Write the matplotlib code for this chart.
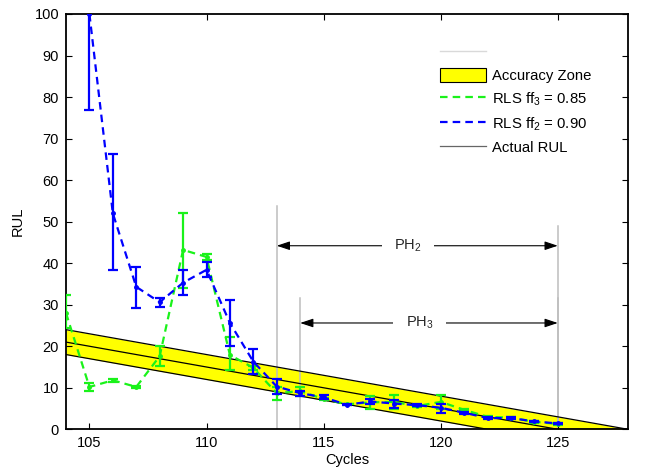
import matplotlib
matplotlib.use("Agg")
import matplotlib.pyplot as plt
from matplotlib.lines import Line2D
from matplotlib.patches import Patch
import numpy as np

plt.rcParams['font.family'] = ['Liberation Sans', 'DejaVu Sans']
plt.rcParams['mathtext.default'] = 'regular'
plt.rcParams['font.size'] = 10.5

# RLS estimate, forgetting factor 0.85
green_cycles = [104, 105, 106, 107, 108, 109, 110, 111, 112, 113, 114,
                115, 116, 117, 118, 119, 120, 121, 122, 123, 124, 125]
green_rul = [28.0, 10.2, 11.8, 10.2, 17.6, 43.2, 41.5, 17.9, 14.8, 8.7, 9.2,
             7.3, 6.0, 6.5, 6.6, 5.6, 6.6, 4.7, 3.0, 2.8, 1.8, 1.3]
green_low = [24.4, 9.2, 11.5, 10.0, 15.2, 34.1, 40.8, 14.3, 14.3, 7.1, 8.1,
             7.0, 5.8, 5.0, 5.0, 5.4, 5.0, 4.5, 2.8, 2.6, 1.6, 1.1]
green_high = [32.3, 11.2, 12.1, 10.4, 20.0, 52.2, 42.2, 22.3, 15.3, 10.3, 10.3,
              7.6, 6.2, 7.9, 8.2, 5.8, 8.2, 4.9, 3.2, 3.0, 2.0, 1.5]

# RLS estimate, forgetting factor 0.90
blue_cycles = [105, 106, 107, 108, 109, 110, 111, 112, 113, 114,
               115, 116, 117, 118, 119, 120, 121, 122, 123, 124, 125]
blue_rul = [100.0, 52.0, 34.3, 30.6, 35.3, 38.4, 25.6, 16.3, 10.3, 8.7,
            7.7, 5.9, 6.7, 6.2, 5.8, 5.2, 4.0, 2.7, 2.7, 1.9, 1.4]
blue_low = [77.0, 38.4, 29.3, 29.4, 32.3, 36.6, 20.1, 13.3, 8.5, 8.1,
            7.2, 5.8, 6.0, 5.2, 5.6, 4.0, 3.8, 2.5, 2.5, 1.7, 1.2]
blue_high = [123.0, 66.3, 39.2, 31.7, 38.3, 40.2, 31.1, 19.3, 12.1, 9.3,
             8.2, 6.0, 7.4, 7.1, 6.0, 6.2, 4.2, 2.9, 2.9, 2.1, 1.6]

# Ground truth and +/- accuracy band
actual_cycles = [104, 125]
actual_rul = [21, 0]
zone_cycles = [104, 122, 125, 128]
zone_upper = [24, 6, 3, 0]
zone_lower = [18, 0, 0, 0]

# Prediction horizons: (start cycle, end cycle, start marker top, end marker top, arrow height)
ph2 = (113, 125, 53.8, 49.0, 44.2)
ph3 = (114, 125, 31.7, 31.7, 25.6)

fig = plt.figure(figsize=(6.55, 4.70), dpi=100)
ax = fig.add_axes([66 / 655, 1 - 429.3 / 470, 562 / 655, 415.3 / 470])

GREEN = (0.1, 0.95, 0.1)
BLUE = (0.0, 0.0, 1.0)
GREY = (0.74, 0.74, 0.74)
DASH = (0, (3.4, 2.3))

ax.fill_between(zone_cycles, zone_lower, zone_upper, color=(1, 1, 0), lw=0, zorder=1)
ax.plot(zone_cycles, zone_upper, color='k', lw=0.9, zorder=2)
ax.plot(zone_cycles, zone_lower, color='k', lw=0.9, zorder=2)
ax.plot(actual_cycles, actual_rul, color='k', lw=0.9, zorder=2)

for (x0, x1, h0, h1, ya), label in [(ph2, 'PH$_2$'), (ph3, 'PH$_3$')]:
    ax.plot([x0, x0], [0, h0], color=GREY, lw=1.1, zorder=1.5)
    ax.plot([x1, x1], [0, h1], color=GREY, lw=1.1, zorder=1.5)
    ax.annotate('', xy=(x0, ya), xytext=(x1, ya),
                arrowprops=dict(arrowstyle='<|-|>,head_length=0.75,head_width=0.25',
                                color='k', lw=0.8, shrinkA=0, shrinkB=0),
                zorder=3)
    ax.text((x0 + x1) / 2 - 0.4, ya, label, ha='center', va='center', fontsize=10.5,
            color=(0.15, 0.15, 0.15),
            bbox=dict(facecolor='white', edgecolor='none', pad=9), zorder=4)

g = np.array(green_rul)
ax.errorbar(green_cycles, g, yerr=[g - np.array(green_low), np.array(green_high) - g],
            color=GREEN, ls=DASH, lw=1.6, marker='.', ms=5,
            elinewidth=1.6, capsize=3.5, capthick=1.6, zorder=5)
b = np.array(blue_rul)
ax.errorbar(blue_cycles, b, yerr=[b - np.array(blue_low), np.array(blue_high) - b],
            color=BLUE, ls=DASH, lw=1.6, marker='.', ms=5,
            elinewidth=1.6, capsize=3.5, capthick=1.6, zorder=6)

ax.set_xlim(104, 128)
ax.set_ylim(0, 100)
ax.set_xticks([105, 110, 115, 120, 125])
ax.set_yticks(np.arange(0, 101, 10))
ax.tick_params(direction='in', top=True, right=True, length=4, width=0.8,
               labelsize=10.5, pad=5)
for s in ax.spines.values():
    s.set_linewidth(1.3)
ax.set_xlabel('Cycles', fontsize=10.5, labelpad=2)
ax.set_ylabel('RUL', fontsize=10.5, labelpad=7)

handles = [Line2D([], [], color=(0.85, 0.85, 0.85), lw=1),
           Patch(facecolor=(1, 1, 0), edgecolor='k', lw=0.8),
           Line2D([], [], color=GREEN, ls=DASH, lw=1.6),
           Line2D([], [], color=BLUE, ls=DASH, lw=1.6),
           Line2D([], [], color=(0.4, 0.4, 0.4), lw=0.9)]
labels = ['', 'Accuracy Zone', 'RLS ff$_3$ = 0.85', 'RLS ff$_2$ = 0.90', 'Actual RUL']
ax.legend(handles, labels, loc='upper left', bbox_to_anchor=(0.666, 0.925),
          frameon=False, borderpad=0, borderaxespad=0, handlelength=3.1,
          handleheight=1.1, handletextpad=0.35, labelspacing=0.5, fontsize=10.7)

fig.savefig('out.png', dpi=100)
